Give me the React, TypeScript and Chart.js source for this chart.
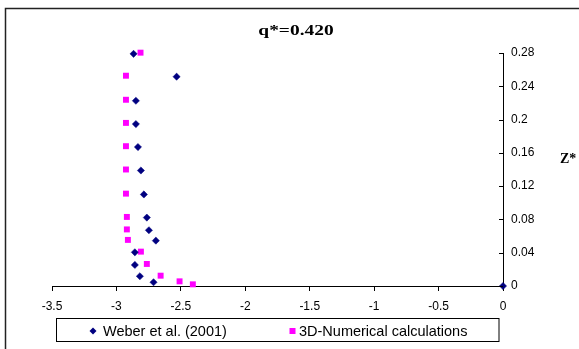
import React, { useEffect, useRef } from "react";
import { Chart, registerables } from "chart.js";

Chart.register(...registerables);

const chartTitle = "q*=0.420";
const yAxisTitle = "Z*";
const weberLabel = "Weber et al. (2001)";
const numLabel = "3D-Numerical calculations";

const xTickMin = -3.5;
const xTickMax = 0;
const xTickStep = 0.5;
const yTickMin = 0;
const yTickMax = 0.28;
const yTickStep = 0.04;

const weberX = [-2.867, -2.533, -2.849, -2.849, -2.833, -2.81, -2.787, -2.764, -2.748, -2.694, -2.857, -2.857, -2.818, -2.712, 0];
const weberZ = [0.279, 0.2515, 0.2226, 0.1946, 0.167, 0.1388, 0.110, 0.0822, 0.067, 0.0545, 0.0405, 0.0253, 0.0117, 0.0045, 0];

const numX = [-2.813, -2.926, -2.926, -2.926, -2.926, -2.926, -2.926, -2.919, -2.919, -2.911, -2.81, -2.764, -2.657, -2.51, -2.407];
const numZ = [0.2804, 0.2527, 0.2238, 0.196, 0.168, 0.14, 0.111, 0.083, 0.068, 0.0554, 0.0413, 0.0265, 0.0124, 0.0056, 0.002];

const NAVY = "#000080";
const MAGENTA = "#FF00FF";

const decor = {
  id: "decor",
  afterDraw(chart: any) {
    const ctx = chart.ctx as CanvasRenderingContext2D;
    ctx.save();
    // outer frame (left & top visible)
    ctx.strokeStyle = "#222";
    ctx.lineWidth = 1.5;
    ctx.beginPath();
    ctx.moveTo(5.5, 349);
    ctx.lineTo(5.5, 8.5);
    ctx.lineTo(579, 8.5);
    ctx.stroke();

    // y-axis inward ticks
    const ys = chart.scales.y;
    ctx.strokeStyle = "#000";
    ctx.lineWidth = 1;
    ctx.beginPath();
    for (const t of ys.ticks) {
      const py = Math.round(ys.getPixelForValue(t.value)) + 0.5;
      ctx.moveTo(ys.left - 4, py);
      ctx.lineTo(ys.left, py);
    }
    ctx.stroke();

    // title (stretched bold serif)
    ctx.fillStyle = "#000";
    ctx.textBaseline = "middle";
    ctx.textAlign = "center";
    ctx.font = "bold 14.5px 'Liberation Serif', 'Times New Roman', serif";
    ctx.save();
    ctx.translate(296, 31);
    ctx.scale(1.34, 1);
    ctx.fillText(chartTitle, 0, 0);
    ctx.restore();

    // y axis title
    ctx.textAlign = "left";
    ctx.font = "bold 14px 'Liberation Serif', 'Times New Roman', serif";
    ctx.fillText(yAxisTitle, 560, 159);

    // legend
    ctx.strokeStyle = "#000";
    ctx.lineWidth = 1;
    ctx.strokeRect(56.5, 318.5, 442.5, 23);
    const ly = 331;
    const ds0 = chart.data.datasets[0];
    const ds1 = chart.data.datasets[1];
    ctx.fillStyle = NAVY;
    ctx.beginPath();
    ctx.moveTo(93, ly - 3.5);
    ctx.lineTo(96.5, ly);
    ctx.lineTo(93, ly + 3.5);
    ctx.lineTo(89.5, ly);
    ctx.closePath();
    ctx.fill();
    ctx.fillStyle = MAGENTA;
    ctx.fillRect(289.5, ly - 3, 6, 6);
    ctx.fillStyle = "#000";
    ctx.font = "14.5px 'Liberation Sans', Arial, sans-serif";
    ctx.textBaseline = "middle";
    ctx.fillText(ds0.label, 103, ly + 1);
    ctx.fillText(ds1.label, 299, ly + 1);
    ctx.restore();
  },
};

export default function App() {
  const ref = useRef<HTMLCanvasElement>(null);
  useEffect(() => {
    if (!ref.current) return;
    const fmt = (v: any) => String(parseFloat(Number(v).toFixed(2)));
    const chart = new Chart(ref.current, {
      type: "scatter",
      data: {
        datasets: [
          {
            label: weberLabel,
            data: weberX.map((x, i) => ({ x, y: weberZ[i] })),
            pointStyle: "rectRot",
            pointRadius: 3.6,
            backgroundColor: NAVY,
            borderColor: NAVY,
            borderWidth: 0.5,
            clip: false,
          } as any,
          {
            label: numLabel,
            data: numX.map((x, i) => ({ x, y: numZ[i] })),
            pointStyle: "rect",
            pointRadius: 4.2,
            backgroundColor: MAGENTA,
            borderColor: MAGENTA,
            borderWidth: 0,
            clip: false,
          } as any,
        ],
      },
      options: {
        responsive: false,
        animation: false,
        layout: { padding: { left: 52, top: 53, right: 0, bottom: 0 } },
        plugins: { legend: { display: false }, title: { display: false }, tooltip: { enabled: false } },
        scales: {
          x: {
            type: "linear",
            min: xTickMin,
            max: xTickMax,
            ticks: {
              stepSize: xTickStep,
              color: "#000",
              font: { family: "'Liberation Sans', Arial, sans-serif", size: 12 },
              padding: 8,
              maxRotation: 0,
              callback: fmt,
            },
            grid: { drawOnChartArea: false, drawTicks: true, tickLength: 5, color: "#000" },
            border: { color: "#000", width: 1 },
            afterFit: (s: any) => {
              s.height = 63;
            },
          },
          y: {
            type: "linear",
            position: "right",
            min: yTickMin,
            max: yTickMax,
            ticks: {
              stepSize: yTickStep,
              color: "#000",
              font: { family: "'Liberation Sans', Arial, sans-serif", size: 12 },
              padding: 8,
              callback: fmt,
            },
            grid: { drawOnChartArea: false, drawTicks: false, color: "#000" },
            border: { color: "#000", width: 1 },
            afterFit: (s: any) => {
              s.width = 76;
            },
          },
        },
      } as any,
      plugins: [decor],
    });
    return () => chart.destroy();
  }, []);
  return (
    <div style={{ position: "absolute", left: 0, top: 0, width: 579, height: 349, background: "#fff" }}>
      <canvas ref={ref} width={579} height={349} style={{ display: "block", width: 579, height: 349 }} />
    </div>
  );
}
